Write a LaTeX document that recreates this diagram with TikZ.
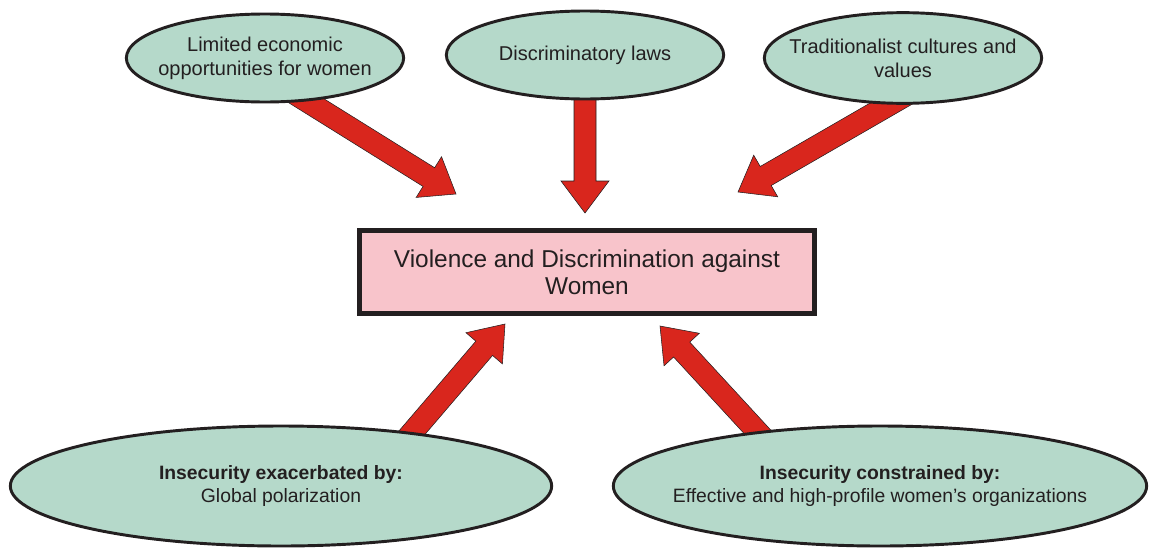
\documentclass[tikz,border=0pt]{standalone}
\usepackage{fontspec}
\setmainfont{Liberation Sans}
\usetikzlibrary{shapes.geometric,calc,backgrounds}
\definecolor{mint}{HTML}{B5D9CA}
\definecolor{rose}{HTML}{F8C4CB}
\definecolor{arrred}{HTML}{D9261D}
\definecolor{ink}{HTML}{231F20}
\tikzset{
  cause/.style={ellipse, draw=ink, line width=2.2pt, fill=mint, text=ink,
    align=center, inner xsep=-40pt, inner ysep=0pt, font=\fontsize{15}{18}\selectfont},
  fat/.style={fill=arrred, draw=ink, line width=0.4pt, to path={
    ($(\tikztostart)!8.25pt!90:(\tikztotarget)$)
    -- ($(\tikztotarget)!24pt!(\tikztostart)!8.25pt!-90:(\tikztostart)$)
    -- ($(\tikztotarget)!24pt!(\tikztostart)!18pt!-90:(\tikztostart)$)
    -- (\tikztotarget)
    -- ($(\tikztotarget)!24pt!(\tikztostart)!18pt!90:(\tikztostart)$)
    -- ($(\tikztotarget)!24pt!(\tikztostart)!8.25pt!90:(\tikztostart)$)
    -- ($(\tikztostart)!8.25pt!-90:(\tikztotarget)$) -- cycle}}
}
\begin{document}
\begin{tikzpicture}[x=0.75pt,y=-0.75pt]
  \useasboundingbox (0,0) rectangle (1149,550);
  \node[cause, minimum width=208pt, minimum height=66pt] (L) at (265,58) {Limited economic\\opportunities for women};
  \node[cause, minimum width=208pt, minimum height=66pt] (D) at (585,55) {Discriminatory laws};
  \node[cause, minimum width=208pt, minimum height=68pt] (T) at (903,58) {Traditionalist cultures and\\values};
  \node[draw=ink, line width=3.75pt, fill=rose, text=ink, minimum width=341pt, minimum height=62pt,
    align=center, font=\fontsize{18.3}{20.3}\selectfont] (V) at (587,272) {Violence and Discrimination against\\Women};
  \node[cause, minimum width=406pt, minimum height=90pt, font=\fontsize{14.5}{17}\selectfont] (X) at (281,486)
    {\textbf{Insecurity exacerbated by:}\\Global polarization};
  \node[cause, minimum width=400pt, minimum height=90pt, font=\fontsize{14.5}{17}\selectfont] (C) at (880,486)
    {\textbf{Insecurity constrained by:}\\Effective and high-profile women’s organizations};
  \coordinate (L1) at ([shift={(8,22)}]L.center);
  \coordinate (D1) at ([shift={(0,15)}]D.center);
  \coordinate (T1) at ([shift={(29,22)}]T.center);
  \coordinate (X1) at ([shift={(99,-16)}]X.center);
  \coordinate (C1) at ([shift={(-92,-21)}]C.center);
  \coordinate (l) at (456,194);
  \coordinate (d) at (585,213);
  \coordinate (t) at (738,192);
  \coordinate (x) at (505,324);
  \coordinate (c) at (660,326);
  \begin{scope}[on background layer]
    \path[fat] (L1) to (l);
    \path[fat] (D1) to (d);
    \path[fat] (T1) to (t);
    \path[fat] (X1) to (x);
    \path[fat] (C1) to (c);
  \end{scope}
\end{tikzpicture}
\end{document}
